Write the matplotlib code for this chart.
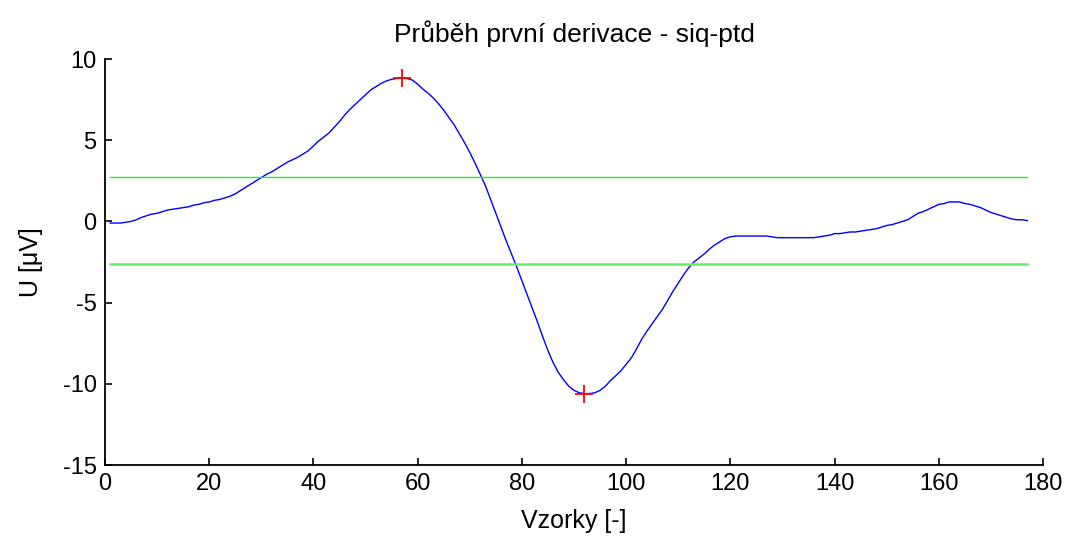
import numpy as np
import matplotlib
matplotlib.use("Agg")
import matplotlib.pyplot as plt

# First derivative of the signal, one value per sample (samples 1..177)
derivative = [
    -0.10, -0.10, -0.10, -0.05, 0.00, 0.10, 0.25, 0.35, 0.45, 0.50,
    0.60, 0.70, 0.75, 0.80, 0.85, 0.90, 1.00, 1.05, 1.15, 1.20,
    1.30, 1.35, 1.45, 1.55, 1.70, 1.90, 2.10, 2.30, 2.50, 2.70,
    2.90, 3.05, 3.25, 3.45, 3.65, 3.80, 3.95, 4.15, 4.35, 4.65,
    4.95, 5.20, 5.45, 5.80, 6.15, 6.55, 6.90, 7.20, 7.50, 7.80,
    8.10, 8.30, 8.50, 8.65, 8.75, 8.80, 8.85, 8.80, 8.70, 8.45,
    8.15, 7.90, 7.60, 7.25, 6.85, 6.40, 5.95, 5.40, 4.85, 4.25,
    3.60, 2.90, 2.20, 1.35, 0.50, -0.35, -1.20, -2.00, -2.80, -3.65,
    -4.50, -5.35, -6.20, -7.10, -7.95, -8.70, -9.30, -9.75, -10.15, -10.40,
    -10.55, -10.60, -10.60, -10.55, -10.40, -10.15, -9.80, -9.50, -9.20, -8.80,
    -8.40, -7.85, -7.25, -6.75, -6.30, -5.85, -5.40, -4.85, -4.30, -3.80,
    -3.30, -2.85, -2.50, -2.25, -2.00, -1.70, -1.45, -1.25, -1.05, -0.95,
    -0.90, -0.90, -0.90, -0.90, -0.90, -0.90, -0.90, -0.95, -1.00, -1.00,
    -1.00, -1.00, -1.00, -1.00, -1.00, -1.00, -0.95, -0.90, -0.85, -0.75,
    -0.75, -0.70, -0.65, -0.65, -0.60, -0.55, -0.50, -0.45, -0.35, -0.25,
    -0.20, -0.10, 0.00, 0.10, 0.30, 0.50, 0.60, 0.75, 0.90, 1.05,
    1.10, 1.20, 1.20, 1.20, 1.10, 1.05, 0.95, 0.85, 0.70, 0.55,
    0.45, 0.35, 0.25, 0.15, 0.10, 0.10, 0.05,
]
samples = list(range(1, len(derivative) + 1))

# Detection thresholds
upper_threshold = 2.73
lower_threshold = -2.62

x_ticks = [0, 20, 40, 60, 80, 100, 120, 140, 160, 180]
y_ticks = [-15, -10, -5, 0, 5, 10]

title_text = "Průběh první derivace - siq-ptd"
x_label = "Vzorky [-]"
y_label = "U [μV]"

plt.rcParams["font.family"] = ["Liberation Sans", "DejaVu Sans"]
plt.rcParams["axes.unicode_minus"] = False

fig = plt.figure(figsize=(10.70, 5.43), dpi=100)
ax = fig.add_axes([0.0981, 0.1436, 0.8767, 0.7477])

y = np.array(derivative)
x = np.array(samples)

ax.plot(x, y, color="#0000ff", lw=1.0)
ax.plot([x[0], x[-1]], [upper_threshold, upper_threshold], color="#22ee22", lw=1.0)
ax.plot([x[0], x[-1]], [lower_threshold, lower_threshold], color="#66f066", lw=1.8)

# extremes of the derivative
i_max = int(np.argmax(y))
i_min = int(np.argmin(y))
ax.plot([x[i_max], x[i_min]], [y[i_max], y[i_min]], linestyle="none",
        marker="+", markersize=13, markeredgewidth=1.3, color="#ff0000")

ax.set_xlim(0, 180)
ax.set_ylim(-15, 10)
ax.set_xticks(x_ticks)
ax.set_yticks(y_ticks)

for side in ("top", "right"):
    ax.spines[side].set_visible(False)
for side in ("left", "bottom"):
    ax.spines[side].set_linewidth(1.3)
ax.tick_params(direction="in", length=5, width=1.2, labelsize=17, pad=6)

ax.set_title(title_text, fontsize=19, pad=12)
ax.set_xlabel(x_label, fontsize=18, labelpad=10)
ax.set_ylabel(y_label, fontsize=18, labelpad=14)

fig.savefig("out.png", dpi=100)
